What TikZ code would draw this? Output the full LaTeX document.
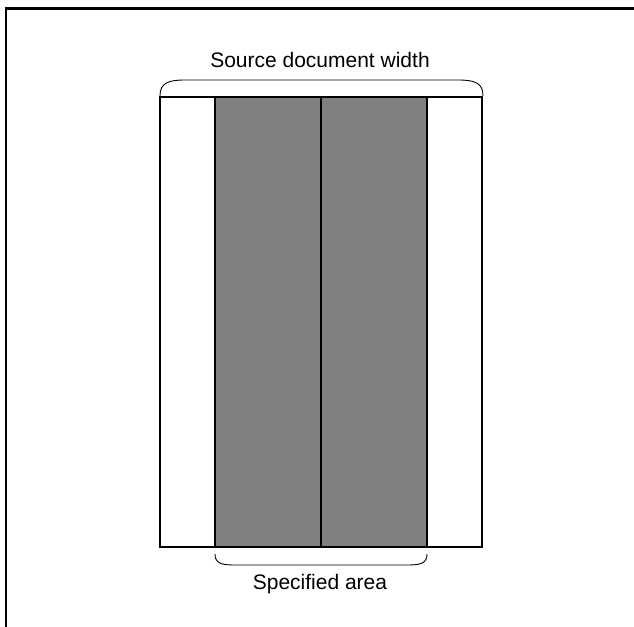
\documentclass[tikz,border=0pt]{standalone}
\usepackage{fontspec}
\setmainfont{Liberation Sans}
\begin{document}
\begin{tikzpicture}[x=1pt,y=-1pt,
  thick line/.style={line width=2pt},
  brace line/.style={line width=0.9pt},
  label text/.style={font=\fontsize{21}{25}\selectfont, anchor=base, inner sep=0pt}]
\useasboundingbox (0,0) rectangle (634,626);
% frame (top and left only)
\draw[line width=2.5pt, line join=miter] (6,630) -- (6,8.5) -- (640,8.5);
% gray specified area
\fill[gray!100!black, fill=gray] (215,97) rectangle (427,547);
% document rectangle
\draw[thick line] (159.5,97) rectangle (482,547);
\draw[thick line] (215,97) -- (215,547);
\draw[thick line] (427,97) -- (427,547);
\draw[thick line] (321,97) -- (321,547);
% upper brace
\coordinate (ua) at (160,96);
\coordinate (ub) at (483,96);
\draw[brace line] (ua) .. controls (160,83) and (168,80) .. (185,80) -- (458,80) .. controls (475,80) and (483,83) .. (ub);
\node[label text] (src) at (320,67) {Source document width};
% lower brace
\coordinate (la) at (215,554);
\coordinate (lb) at (427,554);
\draw[brace line] (la) .. controls (215,563) and (221,565) .. (234,565) -- (408,565) .. controls (421,565) and (427,563) .. (lb);
\node[label text] (spec) at (320,589) {Specified area};
\end{tikzpicture}
\end{document}
